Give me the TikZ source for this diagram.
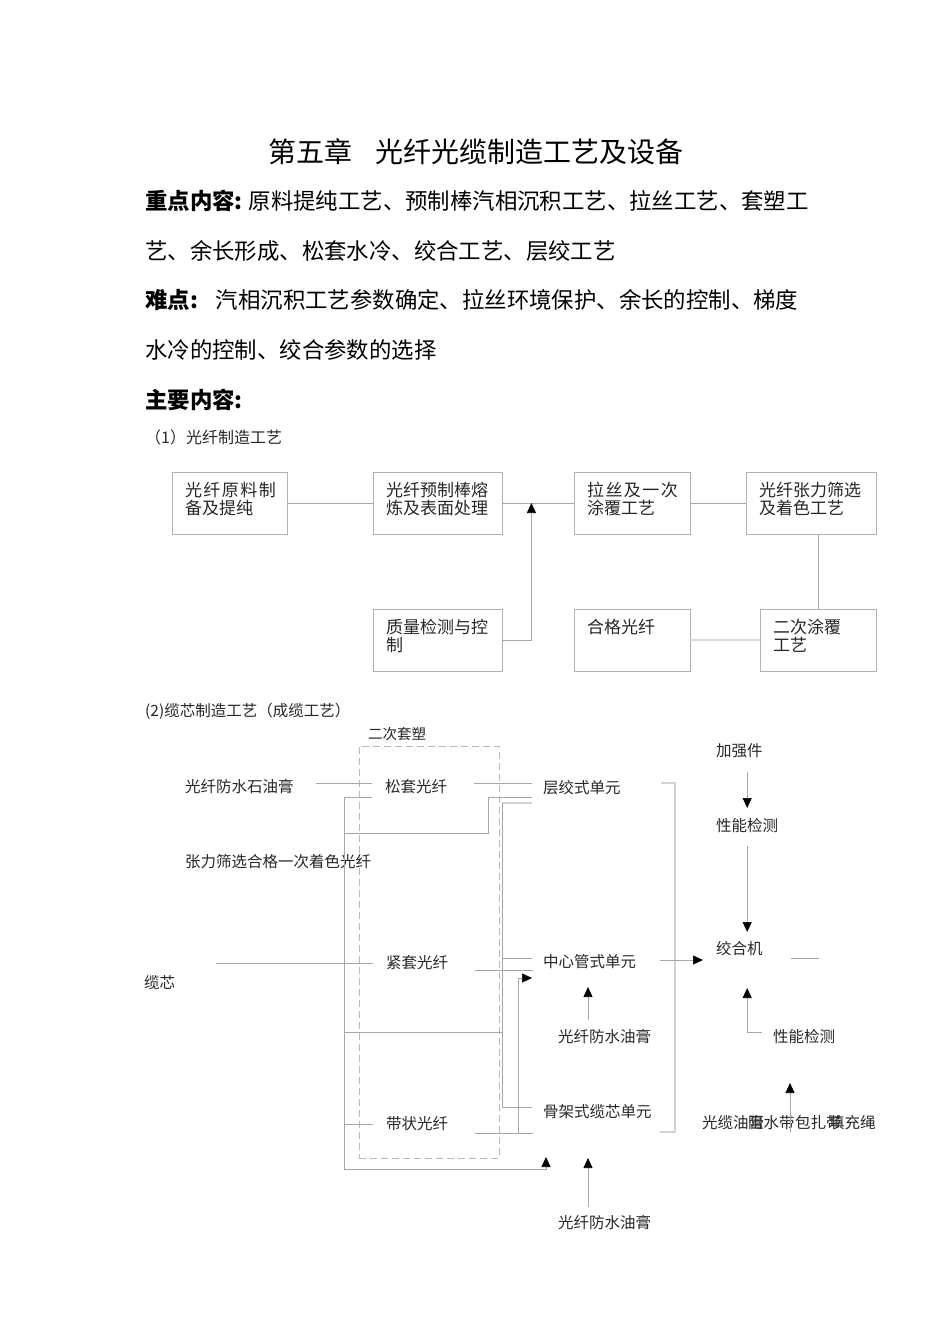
\documentclass[tikz,border=0pt]{standalone}
\usepackage{fontspec}
\setmainfont{Noto Sans CJK SC}
\usetikzlibrary{arrows.meta,positioning,calc}
\newcommand{\boxtxt}[2]{\parbox[c][42pt][t]{#1}{\raggedright #2}}

\begin{document}
\begin{tikzpicture}[
  x=1pt, y=-1pt,
  >={Triangle[length=10pt,width=9pt,black]},
  head/.style={font=\fontsize{28}{32}\selectfont, inner sep=0pt},
  body/.style={font=\fontsize{22.4}{26}\selectfont, anchor=west, inner sep=0pt},
  sect/.style={font=\fontsize{15.5}{18}\selectfont, anchor=west, inner sep=0pt, text=black!85},
  pbox/.style={draw=gray!60, line width=0.8pt, inner xsep=13pt, inner ysep=10pt,
               font=\fontsize{17}{18}\selectfont, text=black!85},
  lbl/.style={font=\fontsize{15.5}{18}\selectfont, anchor=west, inner sep=0pt, text=black!85},
  link/.style={draw=gray!70, line width=0.7pt},
  arr/.style={link, ->},
  pale/.style={draw=gray!35, line width=1.4pt},
  sheath/.style={draw=gray!55, dash pattern=on 7pt off 4pt, line width=0.8pt},
]
\useasboundingbox (0,0) rectangle (950,1344);

% heading and key points
\node[head] (title) at (476,152) {第五章\hspace{0.8em}光纤光缆制造工艺及设备};
\node[body] (key1) at (145,201) {\textbf{重点内容:}\hspace{6pt}原料提纯工艺、预制棒汽相沉积工艺、拉丝工艺、套塑工};
\node[body] (key2) at (145,251) {艺、余长形成、松套水冷、绞合工艺、层绞工艺};
\node[body] (hard1) at (145,300) {\textbf{难点:}\hspace{18pt}汽相沉积工艺参数确定、拉丝环境保护、余长的控制、梯度};
\node[body] (hard2) at (145,350) {水冷的控制、绞合参数的选择};
\node[body] (main) at (145,400) {\textbf{主要内容:}};

% (1) fibre making
\node[sect, font=\fontsize{16}{18}\selectfont] (sec1) at (145,437) {（1）光纤制造工艺};
\node[pbox] (b1) at (229.5,503) {\boxtxt{89pt}{光\kern1.5pt 纤\kern1.5pt 原\kern1.5pt 料\kern1.5pt 制\\备及提纯}};
\node[pbox] (b2) at (437.5,503) {\boxtxt{103pt}{光纤预制棒熔\\炼及表面处理}};
\node[pbox] (b3) at (632,503)   {\boxtxt{90pt}{拉\kern1.5pt 丝\kern1.5pt 及\kern1.5pt 一\kern1.5pt 次\\涂覆工艺}};
\node[pbox] (b4) at (811,503)   {\boxtxt{104pt}{光纤张力筛选\\及着色工艺}};
\node[pbox] (b5) at (437.5,640) {\boxtxt{103pt}{质量检测与控\\制}};
\node[pbox] (b6) at (632,640)   {\boxtxt{90pt}{合格光纤}};
\node[pbox] (b7) at (818,640)   {\boxtxt{90pt}{二次涂覆\\工艺}};

\draw[link] (b1) -- (b2);
\draw[link] (b2) -- (b3);
\draw[link] (b3) -- (b4);
\draw[arr] (b5.east) -| ($(b2.east)+(29,0)$);
\draw[link] (b7.north) -- (b7.north |- b4.south);
\draw[pale, line width=2pt, draw=gray!30] (b6) -- (b7);

% (2) cable core making
\node[sect] (sec2) at (145,711) {(2)缆芯制造工艺（成缆工艺）};
\node[lbl, font=\fontsize{14.5}{17}\selectfont] (taosu) at (368,734) {二次套塑};
\node[sheath, minimum width=140pt, minimum height=412pt] (sheathbox) at (429,952) {};

\node[lbl] (gel0)   at (185,787)  {光纤防水石油膏};
\node[lbl] (loose)  at (385,787)  {松套光纤};
\node[lbl] (layer)  at (543,788)  {层绞式单元};
\node[lbl] (colour) at (185,862)  {张力筛选合格一次着色光纤};
\node[lbl] (tight)  at (386,963)  {紧套光纤};
\node[lbl] (core)   at (144,983)  {缆芯};
\node[lbl] (tube)   at (543,962)  {中心管式单元};
\node[lbl] (gel1)   at (558,1037) {光纤防水油膏};
\node[lbl] (ribbon) at (386,1124) {带状光纤};
\node[lbl] (slot)   at (543,1112) {骨架式缆芯单元};
\node[lbl] (gel2)   at (558,1223) {光纤防水油膏};

\node[lbl] (member) at (716,751)  {加强件};
\node[lbl] (test1)  at (716,826)  {性能检测};
\node[lbl] (strand) at (716,949)  {绞合机};
\node[lbl] (test2)  at (773,1037) {性能检测};
\node[lbl] (fill1)  at (702,1123) {光缆油膏};
\node[lbl] (fill2)  at (748,1123) {阻水带};
\node[lbl] (fill3)  at (795,1123) {包扎带};
\node[lbl] (fill4)  at (829,1123) {填充绳};

\coordinate (busT)  at (344,797);
\coordinate (stepL) at (344,833);
\coordinate (feedC) at (344,1032);
\coordinate (cableL) at (216,963);

% loose tube row
\draw[link] ([shift={(22,-4)}]gel0.east) -- ([shift={(-13,-4)}]loose.west);
\draw[link] ([shift={(27,-4)}]loose.east) -- ([shift={(-11,-5)}]layer.west);
\draw[arr] ([shift={(-13,10)}]loose.west) -- (busT) -- ++(0,372) -| ([shift={(3,45)}]slot.west);
\draw[link] (stepL) -- ++(144,0) |- ([shift={(-11,9)}]layer.west);
\draw[pale] ([shift={(-11,15)}]layer.west) -- ++(-30,0) coordinate (railT);
\draw[link] (railT) |- ([shift={(-11,-5)}]slot.west);
\draw[link] (feedC) -- (feedC -| railT);
\draw[link] ([shift={(-11,-4)}]tube.west) -- ++(-30,0);

% tight buffer and ribbon rows
\draw[link] (cableL) -- ([shift={(-13,0)}]tight.west);
\draw[link] ([shift={(27,7)}]tight.east) -- ++(58,0);
\draw[link] (ribbon.west -| busT) -- ([shift={(-13,0)}]ribbon.west);
\draw[link] ([shift={(27,9)}]ribbon.east) -- ++(58,0);
\draw[arr] ([shift={(70,9)}]ribbon.east) |- ([shift={(-11,16)}]tube.west);
\draw[arr] ([shift={(30,-17)}]gel1.west) -- ++(0,-33);
\draw[arr] ([shift={(30,-16)}]gel2.west) -- ++(0,-49);

% units into the stranding machine
\draw[pale] ([shift={(118,-5)}]layer.west) -- ++(14,0) |- ([shift={(117,20)}]slot.west);
\draw[arr] ([shift={(24,-2)}]tube.east) -- ([shift={(-13,11)}]strand.west);
\draw[arr] ([shift={(0,-54)}]test1.center) -- ([shift={(0,-18)}]test1.center);
\draw[arr] ([shift={(0,20)}]test1.center) -- ($(test1.center |- strand.center)+(0,-17)$);
\draw[link] ([shift={(28,9)}]strand.east) -- ++(28,0);
\draw[arr] ([shift={(-11,-5)}]test2.west) -| ($(test1.center |- strand.center)+(0,39)$);
\draw[arr] ([shift={(-5,9)}]fill3.west) -- ++(0,-49);

\end{tikzpicture}
\end{document}
